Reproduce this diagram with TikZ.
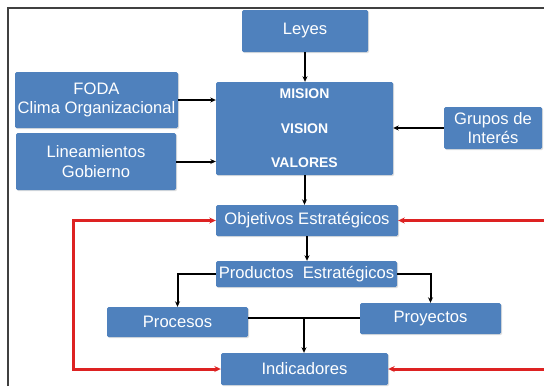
\documentclass[tikz,border=0pt]{standalone}
\usepackage{fontspec}
\setmainfont{Liberation Sans}
\usetikzlibrary{arrows.meta,shadows}
\definecolor{boxblue}{HTML}{4F81BD}
\definecolor{loopred}{HTML}{DD2222}
\begin{document}
\begin{tikzpicture}[x=1pt,y=-1pt,
  box/.style={fill=boxblue, rounded corners=1.5pt, text=white, inner sep=0pt,
    align=center, font=\fontsize{16.6}{19.8}\selectfont,
    drop shadow={opacity=0.25, shadow xshift=1.2pt, shadow yshift=-1.2pt}},
  link/.style={line width=2pt, -{Stealth[length=5.5pt,width=5pt]}},
  plain/.style={line width=2pt},
  redlink/.style={line width=3pt, draw=loopred, -{Stealth[length=6.5pt,width=6pt]}},
  redloop/.style={line width=3pt, draw=loopred, {Stealth[length=6.5pt,width=6pt]}-{Stealth[length=6.5pt,width=6pt]}}]
  \useasboundingbox (0,0) rectangle (544,386);
  \fill[white] (0,0) rectangle (544,386);
  % outer frame
  \draw[line width=1.6pt, black!75] (8,386) -- (8,8) -- (544,8);

  % boxes
  \node[box, minimum width=126pt, minimum height=42pt] (leyes) at (305,31) {Leyes};
  \node[box, minimum width=177pt, minimum height=93pt,
        font=\bfseries\fontsize{14}{34.5}\selectfont] (mvv) at (304.5,128.5) {MISION\\VISION\\VALORES};
  \node[box, minimum width=163pt, minimum height=56pt] (foda) at (96.5,100) {FODA\\Clima Organizacional};
  \node[box, minimum width=160pt, minimum height=57pt] (lin) at (96,161.5) {Lineamientos\\Gobierno};
  \node[box, minimum width=98pt, minimum height=42pt] (grupos) at (493,128) {Grupos de\\Interés};
  \node[box, minimum width=182pt, minimum height=31pt] (obj) at (307,220.5) {Objetivos Estratégicos};
  \node[box, minimum width=181pt, minimum height=26pt] (prod) at (306.5,274) {Productos\ \ Estratégicos};
  \node[box, minimum width=141pt, minimum height=30pt] (proc) at (177.5,322) {Procesos};
  \node[box, minimum width=141pt, minimum height=31pt] (proy) at (430.5,318.5) {Proyectos};
  \node[box, minimum width=167pt, minimum height=32pt] (ind) at (304.5,369) {Indicadores};

  % helper coordinates
  \coordinate (j) at (304,318);
  \coordinate (lx) at (73,0);
  \coordinate (rx) at (544,0);

  % black connectors
  \draw[link] (leyes.south) -- (leyes.south |- mvv.north);
  \draw[link] (foda.east) -- (mvv.west |- foda.east);
  \draw[link] (lin.east) -- (mvv.west |- lin.east);
  \draw[link] (grupos.west) -- (mvv.east |- grupos.west);
  \draw[link] (mvv.south) -- (mvv.south |- obj.north);
  \draw[link] (obj.south) -- (obj.south |- prod.north);
  \draw[link] (prod.west) -| (proc.north);
  \draw[link] (prod.east) -| (proy.north);
  \draw[plain] (proc.east |- j) -- (proy.west |- j);
  \draw[link] (j) -- (j |- ind.north);

  % red feedback loops
  \draw[redloop] (obj.west) -- (obj.west -| lx) -- (ind.west -| lx) -- (ind.west);
  \draw[redlink] (obj.east -| rx) -- (obj.east);
  \draw[redlink] (ind.east -| rx) -- (ind.east);
\end{tikzpicture}
\end{document}
